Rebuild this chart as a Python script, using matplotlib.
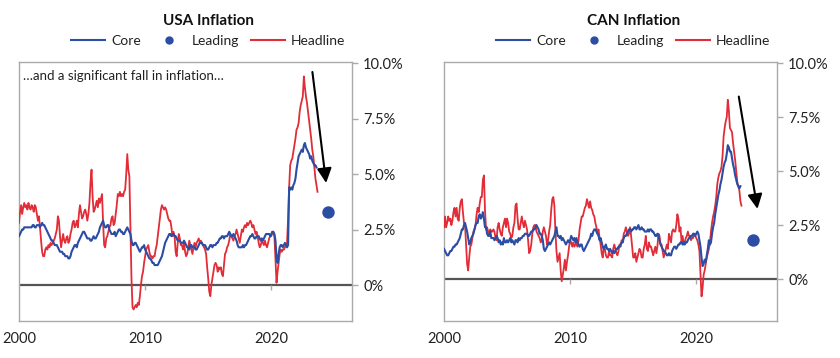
import numpy as np
import matplotlib
matplotlib.use('Agg')
import matplotlib.pyplot as plt
from matplotlib.lines import Line2D

plt.rcParams['font.family'] = ['Lato', 'DejaVu Sans']

# --- data: monthly y/y inflation (%), starting Jan 2000 ---
usa_headline = [
    2.8, 3.3, 3.6, 3.2, 3.5, 3.7, 3.5, 3.6, 3.4, 3.7, 3.5, 3.4,   # 2000
    3.6, 3.5, 3.3, 3.6, 3.5, 3.2, 2.9, 3.1, 2.6, 2.0, 1.5, 1.3,   # 2001
    1.3, 1.6, 1.7, 1.6, 1.8, 1.7, 1.9, 1.8, 1.9, 2.0, 2.1, 2.3,   # 2002
    2.5, 3.1, 2.9, 2.2, 1.7, 2.0, 2.3, 2.0, 1.9, 2.1, 2.2, 1.9,   # 2003
    2.0, 2.3, 2.5, 2.8, 2.9, 2.6, 2.7, 2.9, 2.6, 3.2, 3.6, 3.3,   # 2004
    3.0, 3.1, 3.3, 3.4, 3.2, 2.9, 3.2, 3.7, 4.6, 5.2, 4.0, 3.3,   # 2005
    3.4, 3.6, 3.8, 3.5, 3.9, 3.7, 3.9, 4.1, 2.8, 1.8, 1.7, 2.1,   # 2006
    2.2, 2.4, 2.6, 2.7, 3.0, 3.1, 2.7, 2.8, 3.2, 3.6, 4.1, 4.0,   # 2007
    4.2, 4.0, 4.1, 4.0, 4.2, 4.3, 5.0, 5.9, 5.2, 4.9, 2.5, 0.3,   # 2008
    -1.0, -1.1, -1.0, -0.9, -1.0, -0.8, -0.9, -0.5, 0.0, 0.4, 0.6, 1.0,  # 2009
    1.3, 1.6, 1.7, 1.8, 1.5, 1.3, 1.3, 1.2, 1.3, 1.3, 1.6, 1.8,   # 2010
    2.2, 2.6, 3.0, 3.4, 3.6, 3.5, 3.4, 3.5, 3.4, 3.2, 3.0, 2.9,   # 2011
    2.9, 2.6, 2.2, 2.4, 2.2, 1.5, 1.3, 1.9, 2.3, 2.1, 1.8, 1.8,   # 2012
    1.6, 1.9, 1.5, 1.3, 1.4, 1.7, 2.0, 1.8, 1.6, 1.4, 1.7, 1.9,   # 2013
    1.7, 1.9, 2.0, 2.1, 1.9, 2.0, 1.9, 1.8, 1.7, 1.6, 1.4, 0.8,   # 2014
    0.3, -0.3, -0.5, 0.0, 0.3, 0.6, 0.9, 1.0, 0.9, 0.6, 0.8, 0.7,  # 2015
    0.8, 0.5, 0.4, 0.9, 1.4, 1.5, 1.7, 1.8, 2.0, 2.3, 2.2, 2.1,   # 2016
    2.0, 2.2, 2.3, 2.5, 2.3, 2.1, 1.9, 2.2, 2.5, 2.4, 2.6, 2.7,   # 2017
    2.6, 2.8, 2.7, 2.8, 2.9, 2.8, 2.6, 2.7, 2.5, 2.3, 2.4, 2.2,   # 2018
    1.9, 1.7, 1.8, 2.0, 1.9, 1.8, 2.0, 1.8, 1.7, 1.9, 2.1, 2.2,   # 2019
    2.2, 2.4, 2.3, 2.2, 1.2, 0.1, 0.6, 1.0, 1.4, 1.6, 1.5, 1.6,   # 2020
    1.6, 1.7, 1.8, 1.9, 3.0, 4.4, 5.4, 5.6, 5.7, 6.0, 6.3, 6.6,   # 2021
    7.0, 7.1, 7.3, 7.8, 8.1, 8.3, 8.5, 9.4, 8.9, 8.5, 8.2, 7.8,   # 2022
    7.4, 7.0, 6.6, 6.1, 5.8, 5.3, 4.8, 4.5, 4.2,                  # 2023
]

usa_core = [
    2.2, 2.3, 2.4, 2.5, 2.5, 2.6, 2.6, 2.6, 2.6, 2.6, 2.6, 2.6,   # 2000
    2.6, 2.7, 2.7, 2.6, 2.6, 2.7, 2.7, 2.7, 2.6, 2.7, 2.8, 2.7,   # 2001
    2.7, 2.6, 2.5, 2.4, 2.3, 2.2, 2.1, 2.0, 2.0, 1.9, 1.8, 1.8,   # 2002
    1.8, 1.7, 1.6, 1.5, 1.5, 1.5, 1.4, 1.4, 1.3, 1.3, 1.3, 1.2,   # 2003
    1.2, 1.3, 1.5, 1.6, 1.7, 1.8, 1.8, 1.7, 1.9, 2.0, 2.1, 2.2,   # 2004
    2.3, 2.4, 2.4, 2.3, 2.2, 2.1, 2.1, 2.1, 2.0, 2.0, 2.1, 2.2,   # 2005
    2.1, 2.1, 2.2, 2.3, 2.4, 2.6, 2.7, 2.8, 2.9, 2.7, 2.6, 2.6,   # 2006
    2.7, 2.7, 2.5, 2.4, 2.3, 2.3, 2.3, 2.4, 2.2, 2.3, 2.4, 2.5,   # 2007
    2.5, 2.4, 2.4, 2.3, 2.3, 2.4, 2.5, 2.6, 2.5, 2.4, 2.3, 2.0,   # 2008
    1.8, 1.8, 1.9, 1.9, 1.8, 1.7, 1.6, 1.5, 1.6, 1.7, 1.7, 1.8,   # 2009
    1.6, 1.5, 1.4, 1.3, 1.2, 1.2, 1.1, 1.0, 1.0, 0.9, 0.9, 0.9,   # 2010
    0.9, 1.0, 1.1, 1.2, 1.3, 1.5, 1.7, 1.9, 2.0, 2.1, 2.2, 2.3,   # 2011
    2.3, 2.2, 2.3, 2.3, 2.2, 2.2, 2.1, 2.0, 2.0, 2.0, 1.9, 1.9,   # 2012
    1.9, 2.0, 1.9, 1.8, 1.7, 1.7, 1.6, 1.8, 1.8, 1.7, 1.7, 1.7,   # 2013
    1.6, 1.6, 1.7, 1.8, 1.9, 1.9, 1.9, 1.8, 1.8, 1.8, 1.7, 1.6,   # 2014
    1.6, 1.7, 1.8, 1.8, 1.7, 1.8, 1.8, 1.8, 1.9, 1.9, 2.0, 2.1,   # 2015
    2.1, 2.2, 2.2, 2.1, 2.2, 2.2, 2.2, 2.3, 2.4, 2.3, 2.2, 2.2,   # 2016
    2.3, 2.2, 2.1, 2.0, 1.8, 1.7, 1.7, 1.7, 1.7, 1.8, 1.7, 1.8,   # 2017
    1.8, 1.9, 2.0, 2.1, 2.2, 2.2, 2.3, 2.2, 2.1, 2.1, 2.2, 2.2,   # 2018
    2.2, 2.1, 2.0, 2.1, 2.0, 2.1, 2.2, 2.3, 2.3, 2.3, 2.3, 2.2,   # 2019
    2.3, 2.4, 2.4, 2.3, 2.0, 1.2, 1.0, 1.4, 1.7, 1.8, 1.8, 1.7,   # 2020
    1.8, 1.9, 1.8, 1.7, 1.8, 4.4, 4.3, 4.4, 4.3, 4.5, 4.6, 4.8,   # 2021
    5.2, 5.5, 5.8, 5.9, 6.0, 6.1, 6.0, 6.3, 6.4, 6.2, 6.1, 6.0,   # 2022
    5.9, 5.7, 5.8, 5.6, 5.5, 5.4, 5.4, 5.3,                       # 2023
]

can_headline = [
    2.4, 2.9, 2.4, 2.6, 2.9, 2.7, 2.8, 2.5, 2.7, 3.1, 3.3, 2.9,   # 2000
    3.3, 2.8, 2.7, 3.3, 3.6, 3.7, 3.1, 2.6, 2.5, 1.6, 0.7, 0.4,   # 2001
    1.0, 1.5, 1.6, 1.9, 2.2, 2.3, 2.5, 3.0, 3.3, 3.1, 3.5, 3.8,   # 2002
    3.8, 4.6, 4.8, 3.2, 2.3, 2.4, 2.2, 2.1, 2.3, 2.2, 2.2, 2.3,   # 2003
    2.2, 1.9, 1.8, 2.4, 2.6, 2.3, 2.1, 2.0, 2.4, 2.6, 2.8, 2.4,   # 2004
    2.8, 2.6, 2.2, 2.1, 1.9, 2.0, 2.4, 2.6, 3.4, 3.5, 2.8, 2.3,   # 2005
    2.3, 2.6, 2.9, 2.6, 2.4, 2.7, 2.5, 2.3, 1.8, 1.2, 1.3, 1.6,   # 2006
    2.1, 2.4, 2.5, 2.5, 2.2, 2.1, 2.0, 1.9, 1.7, 1.8, 2.2, 2.4,   # 2007
    2.2, 2.0, 1.6, 1.8, 2.2, 2.5, 3.2, 3.7, 3.8, 3.4, 2.2, 1.3,   # 2008
    0.8, 1.0, 1.2, 0.4, -0.1, 0.2, 0.5, 0.9, 0.4, 0.8, 1.1, 1.5,  # 2009
    1.8, 1.7, 1.5, 1.7, 1.5, 1.6, 1.7, 1.5, 1.8, 2.3, 2.6, 2.9,   # 2010
    2.9, 3.1, 3.3, 3.4, 3.7, 3.5, 3.3, 3.6, 3.3, 3.2, 3.0, 2.9,   # 2011
    2.6, 2.4, 2.1, 2.3, 1.9, 1.6, 1.2, 1.0, 1.5, 1.4, 1.1, 1.0,   # 2012
    1.0, 1.3, 1.1, 1.1, 1.0, 1.4, 1.6, 1.4, 1.2, 1.1, 1.3, 1.6,   # 2013
    1.5, 1.8, 1.7, 2.1, 2.2, 2.4, 2.2, 2.0, 2.1, 2.4, 2.0, 1.5,   # 2014
    1.0, 1.0, 1.2, 0.8, 1.0, 1.2, 1.4, 1.3, 1.0, 1.0, 1.4, 1.6,   # 2015
    2.0, 1.4, 1.3, 1.7, 1.5, 1.5, 1.3, 1.1, 1.3, 1.5, 1.2, 1.5,   # 2016
    2.1, 2.0, 1.6, 1.6, 1.3, 1.0, 1.2, 1.4, 1.6, 1.4, 2.1, 1.9,   # 2017
    1.7, 2.2, 2.3, 2.2, 2.2, 2.5, 3.0, 2.8, 2.2, 2.4, 1.7, 2.0,   # 2018
    1.6, 1.7, 1.9, 2.0, 2.2, 2.0, 2.0, 1.8, 1.9, 1.9, 2.1, 2.0,   # 2019
    1.9, 1.8, 1.6, 1.3, 0.2, -0.8, -0.4, 0.2, 0.4, 0.7, 1.0, 1.2,  # 2020
    1.4, 1.7, 2.2, 2.6, 2.9, 3.1, 3.4, 3.8, 4.4, 4.7, 4.9, 5.0,   # 2021
    5.2, 5.7, 6.6, 7.0, 7.3, 7.5, 8.3, 7.8, 7.0, 6.9, 6.8, 6.3,   # 2022
    5.9, 5.5, 5.0, 4.5, 4.3, 4.1, 3.6, 3.4,                       # 2023
]

can_core = [
    1.4, 1.3, 1.2, 1.1, 1.1, 1.2, 1.3, 1.3, 1.4, 1.5, 1.5, 1.6,   # 2000
    1.6, 1.7, 1.8, 1.9, 2.1, 2.3, 2.3, 2.5, 2.6, 2.4, 2.2, 1.9,   # 2001
    1.6, 1.7, 1.9, 2.0, 2.1, 2.3, 2.5, 2.6, 2.6, 2.9, 3.0, 2.8,   # 2002
    2.9, 3.1, 2.8, 2.4, 2.4, 2.1, 2.0, 2.0, 2.2, 1.9, 1.9, 1.9,   # 2003
    1.8, 1.9, 2.0, 1.9, 1.7, 1.8, 1.6, 1.7, 1.6, 1.9, 1.7, 1.7,   # 2004
    1.8, 1.7, 1.8, 1.9, 1.7, 1.8, 1.7, 1.6, 1.8, 1.8, 1.7, 1.9,   # 2005
    1.8, 1.9, 1.9, 2.0, 2.0, 2.1, 2.1, 2.1, 2.0, 2.0, 2.1, 2.2,   # 2006
    2.2, 2.3, 2.3, 2.4, 2.5, 2.4, 2.3, 2.1, 2.1, 2.0, 1.8, 1.4,   # 2007
    1.3, 1.4, 1.5, 1.6, 1.7, 1.6, 1.7, 1.8, 1.9, 2.0, 2.2, 2.4,   # 2008
    2.0, 2.0, 1.9, 2.0, 1.8, 1.9, 1.8, 1.7, 1.6, 1.7, 1.8, 1.7,   # 2009
    1.8, 2.0, 1.9, 1.8, 1.9, 1.7, 1.9, 1.7, 1.6, 1.5, 1.6, 1.6,   # 2010
    1.4, 1.3, 1.4, 1.5, 1.6, 1.7, 1.8, 1.9, 2.1, 2.0, 2.2, 2.3,   # 2011
    2.3, 2.2, 2.1, 2.0, 1.8, 1.9, 1.7, 1.5, 1.4, 1.5, 1.6, 1.4,   # 2012
    1.4, 1.3, 1.4, 1.3, 1.2, 1.3, 1.2, 1.3, 1.4, 1.4, 1.5, 1.5,   # 2013
    1.6, 1.7, 1.7, 1.9, 2.0, 2.0, 2.1, 2.2, 2.3, 2.3, 2.2, 2.3,   # 2014
    2.3, 2.4, 2.4, 2.3, 2.4, 2.5, 2.3, 2.3, 2.4, 2.3, 2.3, 2.2,   # 2015
    2.2, 2.2, 2.3, 2.2, 2.3, 2.3, 2.2, 2.2, 2.1, 2.0, 2.0, 2.1,   # 2016
    2.0, 1.8, 1.6, 1.5, 1.4, 1.3, 1.3, 1.2, 1.1, 1.1, 1.2, 1.1,   # 2017
    1.1, 1.3, 1.4, 1.5, 1.5, 1.4, 1.5, 1.6, 1.6, 1.7, 1.7, 1.6,   # 2018
    1.7, 1.6, 1.7, 1.7, 1.8, 1.9, 1.9, 2.0, 2.0, 2.1, 2.1, 2.0,   # 2019
    2.1, 2.2, 2.1, 1.8, 1.5, 1.0, 0.6, 0.7, 0.9, 0.8, 1.1, 1.4,   # 2020
    1.8, 1.6, 1.7, 2.1, 2.4, 2.6, 3.0, 3.3, 3.6, 3.9, 4.1, 4.4,   # 2021
    4.6, 4.9, 5.2, 5.4, 5.5, 5.8, 6.2, 6.1, 5.9, 5.9, 5.6, 5.3,   # 2022
    5.1, 4.8, 4.6, 4.4, 4.3, 4.2, 4.3,                            # 2023
]

# leading indicator (year, %)
usa_leading = (2024.53, 3.3)
can_leading = (2024.53, 1.8)

# arrow start / end (year, %)
usa_arrow = ((2023.26, 9.6), (2024.35, 4.6))
can_arrow = ((2023.37, 8.45), (2024.85, 3.25))

year_ticks = [2000, 2010, 2020]
pct_ticks = [0, 2.5, 5.0, 7.5, 10.0]
pct_labels = ['0%', '2.5%', '5.0%', '7.5%', '10.0%']

BLUE = '#2b4da3'
RED = '#e22c37'
SPINE = '#aaaaaa'


def months(series):
    return 2000 + np.arange(len(series)) / 12.0


fig = plt.figure(figsize=(8.4, 3.58), dpi=100)
ax_usa = fig.add_axes([19 / 840, 37 / 358, 333 / 840, 259 / 358])
ax_can = fig.add_axes([444 / 840, 37 / 358, 333 / 840, 259 / 358])

panels = [
    (ax_usa, 'USA Inflation', usa_core, usa_headline, usa_leading, usa_arrow, (-1.62, 10.05)),
    (ax_can, 'CAN Inflation', can_core, can_headline, can_leading, can_arrow, (-1.94, 10.05)),
]

for ax, title, core, headline, leading, arrow, ylim in panels:
    ax.axhline(0, color='#555555', lw=1.6, zorder=1)
    ax.plot(months(headline), headline, color=RED, lw=1.3, zorder=3)
    ax.plot(months(core), core, color=BLUE, lw=1.5, zorder=4)
    ax.scatter([leading[0]], [leading[1]], s=80, color=BLUE, zorder=5, linewidths=0)
    ax.annotate('', xy=arrow[1], xytext=arrow[0],
                arrowprops=dict(arrowstyle='-|>', color='black', lw=1.5,
                                mutation_scale=22, shrinkA=0, shrinkB=0))

    ax.set_xlim(2000.12, 2026.4)
    ax.set_ylim(*ylim)

    # small year ticks hanging from the zero line
    ax.vlines(year_ticks[1:], -0.22, 0, color=SPINE, lw=1, zorder=1)
    ax.set_xticks(year_ticks)
    ax.set_xticklabels([str(y) for y in year_ticks])
    ax.tick_params(axis='x', length=0, pad=8, labelsize=10.5, colors='#222222')

    ax.yaxis.tick_right()
    ax.set_yticks(pct_ticks)
    ax.set_yticklabels(pct_labels)
    ax.tick_params(axis='y', length=4.5, width=1, color=SPINE, pad=3.5,
                   labelsize=10.5, labelcolor='#222222')

    for sp in ax.spines.values():
        sp.set_color(SPINE)
        sp.set_linewidth(1)

    ax.text(0.568, 1.0 + 41 / 259, title, transform=ax.transAxes, ha='center',
            va='center', fontsize=11, fontweight='bold', color='#111111')

    handles = [
        Line2D([], [], color=BLUE, lw=1.5),
        Line2D([], [], color=BLUE, lw=0, marker='o', markersize=5),
        Line2D([], [], color=RED, lw=1.5),
    ]
    ax.legend(handles, ['Core', 'Leading', 'Headline'], ncol=3, frameon=False,
              loc='center', bbox_to_anchor=(0.568, 1.0 + 21 / 259),
              fontsize=10, handlelength=2.45, handletextpad=0.43,
              columnspacing=0.8, borderpad=0, labelcolor='#222222')

ax_usa.text(0.012, 0.945, '\u2026and a significant fall in inflation\u2026',
            transform=ax_usa.transAxes, ha='left', va='center', fontsize=9.5,
            color='#222222')

fig.savefig('out.png', dpi=100)
